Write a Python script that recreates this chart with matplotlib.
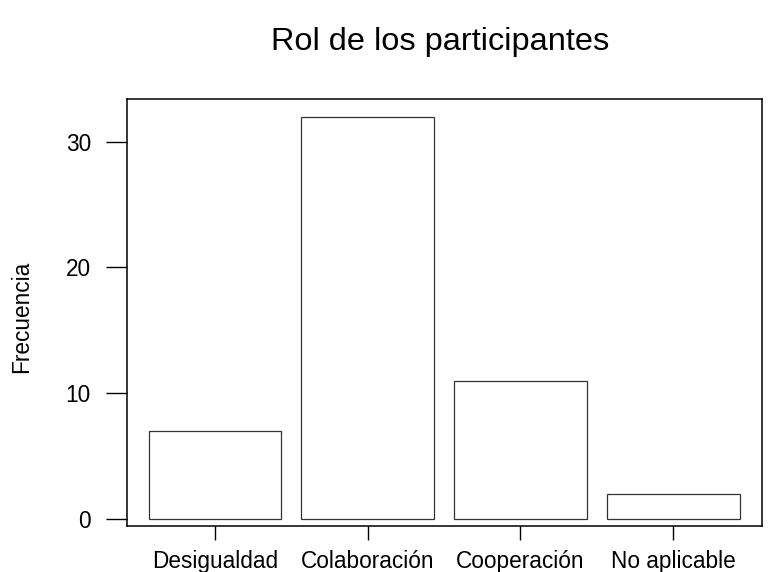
import matplotlib
matplotlib.use("Agg")
import matplotlib.pyplot as plt

categories = ["Desigualdad", "Colaboración", "Cooperación", "No aplicable"]
frecuencia = [7, 32, 11, 2]
y_ticks = [0, 10, 20, 30]

plt.rcParams["font.family"] = ["Liberation Sans", "DejaVu Sans"]

fig = plt.figure(figsize=(7.7, 5.72), dpi=100)
ax = fig.add_axes([127 / 770, 1 - 526 / 572, 635 / 770, 427 / 572])

x = list(range(len(categories)))
ax.bar(x, frecuencia, width=0.87, facecolor="white", edgecolor="#333333", linewidth=0.9)

ax.set_xlim(-0.576, 3.582)
ax.set_ylim(-0.56, 33.4)
ax.set_xticks(x)
ax.set_xticklabels(categories, fontsize=16.3)
ax.set_yticks(y_ticks)
ax.set_yticklabels([str(v) for v in y_ticks], fontsize=16.3)

ax.tick_params(axis="x", direction="out", length=10, width=1, pad=7, bottom=True, top=False)
ax.tick_params(axis="y", direction="out", length=15, width=1, pad=11, left=True, right=False)
for s in ax.spines.values():
    s.set_linewidth(1.1)
    s.set_color("black")

fig.text(440 / 770, 1 - 42 / 572, "Rol de los participantes", ha="center", va="center", fontsize=23.4)
fig.text(22 / 770, 1 - 317 / 572, "Frecuencia", ha="center", va="center", rotation=90, fontsize=16.3)

fig.savefig("out.png", dpi=100)
